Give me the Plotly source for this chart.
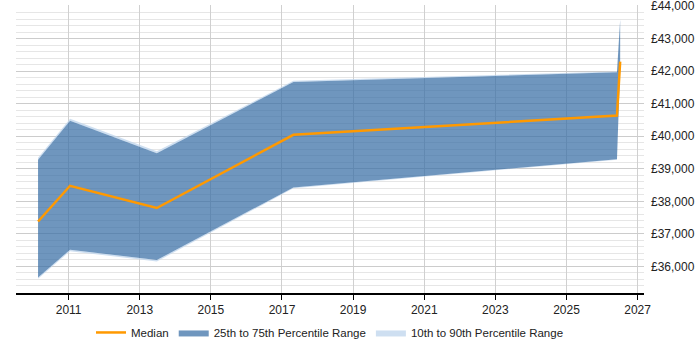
import plotly.graph_objects as go

years = [2010.14, 2011.04, 2013.48, 2017.32, 2026.42, 2026.51]
median = [37381, 38477, 37795, 40042, 40634, 42291]
p25 = [35663, 36513, 36197, 38425, 39296, 42100]
p75 = [39275, 40471, 39480, 41668, 41966, 43570]
p10 = [35620, 36470, 36150, 38400, 39280, 42100]
p90 = [39336, 40533, 39535, 41700, 41990, 43600]

x_ticks = [2011, 2013, 2015, 2017, 2019, 2021, 2023, 2025, 2027]
y_ticks = [36000, 37000, 38000, 39000, 40000, 41000, 42000, 43000, 44000]
y_labels = ["£{:,}".format(v) for v in y_ticks]

light = "rgba(190,212,236,0.75)"
blue = "rgba(56,109,165,0.72)"
orange = "#FF9900"

fig = go.Figure()
# 10-90 upper band
fig.add_trace(go.Scatter(x=years, y=p75, mode="lines", line=dict(width=0), showlegend=False, hoverinfo="skip"))
fig.add_trace(go.Scatter(x=years, y=p90, mode="lines", line=dict(width=0), fill="tonexty",
                         fillcolor=light, name="10th to 90th Percentile Range", legendrank=3))
# 10-90 lower band
fig.add_trace(go.Scatter(x=years, y=p10, mode="lines", line=dict(width=0), showlegend=False, hoverinfo="skip"))
fig.add_trace(go.Scatter(x=years, y=p25, mode="lines", line=dict(width=0), fill="tonexty",
                         fillcolor=light, showlegend=False))
# 25-75 band
fig.add_trace(go.Scatter(x=years, y=p25, mode="lines", line=dict(width=0), showlegend=False, hoverinfo="skip"))
fig.add_trace(go.Scatter(x=years, y=p75, mode="lines", line=dict(width=0), fill="tonexty",
                         fillcolor=blue, name="25th to 75th Percentile Range", legendrank=2))
fig.add_trace(go.Scatter(x=years, y=median, mode="lines", line=dict(color=orange, width=2.5),
                         name="Median", legendrank=1))

fig.update_layout(
    width=700, height=350,
    margin=dict(l=16, r=56, t=5, b=57, autoexpand=False),
    paper_bgcolor="white", plot_bgcolor="white",
    font=dict(family="Liberation Sans, Arial, sans-serif", size=12, color="#333333"),
    showlegend=True,
    legend=dict(orientation="h", x=0.5, xanchor="center", y=-0.137, yanchor="middle",
                font=dict(size=11.5, color="#222222"), itemwidth=30, traceorder="normal"),
    xaxis=dict(range=[2009.52, 2027.18], tickmode="array", tickvals=x_ticks,
               ticktext=[str(v) for v in x_ticks], automargin=False,
               showgrid=True, gridcolor="#d0d0d0", gridwidth=1,
               showline=True, linecolor="#000000", linewidth=1.5,
               ticks="outside", ticklen=5, tickcolor="#000000", zeroline=False,
               tickfont=dict(size=12, color="#222222")),
    yaxis=dict(range=[35184, 44030], side="right", tickmode="array", tickvals=y_ticks,
               ticktext=y_labels, showgrid=True, gridcolor="#cccccc", gridwidth=1,
               automargin=False,
               zeroline=False, ticks="", ticklabelstandoff=6, ticklabeloverflow="allow",
               minor=dict(dtick=200, tick0=0, showgrid=True, gridcolor="#e6e6e6", gridwidth=1),
               tickfont=dict(size=12, color="#222222")),
)

fig.write_html("out.html")
